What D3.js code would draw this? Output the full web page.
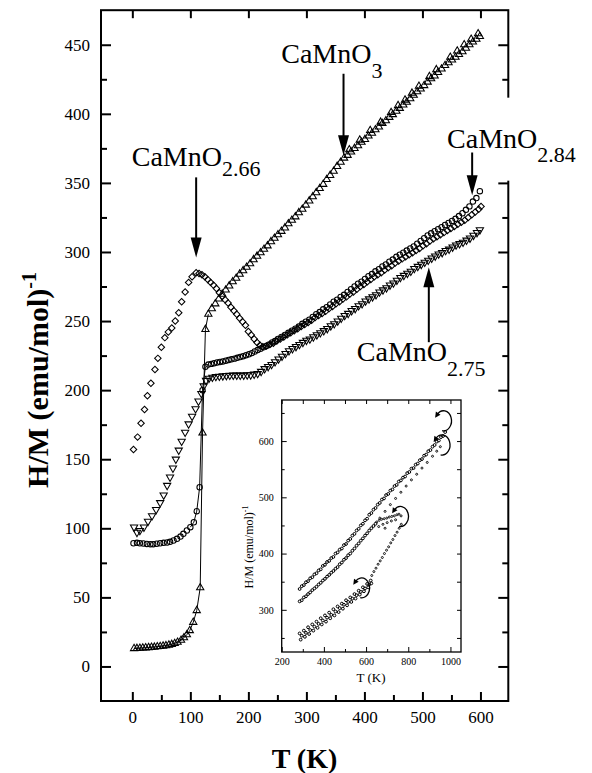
<!DOCTYPE html>
<html>
<head>
<meta charset="utf-8">
<script src="https://cdn.jsdelivr.net/npm/d3@7/dist/d3.min.js"></script>
<style>
html,body{margin:0;padding:0;background:#fff;}
svg{display:block;}
svg text{font-family:"Liberation Serif","DejaVu Serif",serif !important;}
</style>
</head>
<body>
<svg id="chart" width="592" height="773"></svg>
<script>
// ================= DATA =================
const xDomain = [-54, 648];
const yDomain = [-25, 475];
const xTicks = [0, 100, 200, 300, 400, 500, 600];
const xMinorTicks = [50, 150, 250, 350, 450, 550];
const yTicks = [0, 50, 100, 150, 200, 250, 300, 350, 400, 450];
const yMinorTicks = [25, 75, 125, 175, 225, 275, 325, 375, 425];

// CaMnO3 (up triangles), low-T part joined by a line
const caMnO3Low = [[3,13.0],[8,13.1],[13,13.2],[18,13.4],[23,13.5],[28,13.7],[33,13.9],[38,14.0],[43,14.3],[48,14.5],[53,14.8],[58,15.1],[63,15.5],[68,16.0],[73,16.7],[78,17.6],[84,19.0],[89,20.8],[94,23.0],[99,26.0],[105,32.0],[111,40.5],[117,57.0],[121,169.0],[126,244.0],[131,255.0]];
const caMnO3High = [[137,259],[143,262.5],[149,266],[155,269.5],[161,272.5],[167,275.5],[173,278.5],[179,281],[185,284],[191,286.5],[197,289],[203,291.5],[209,294.5],[215,297],[221,299.5],[227,302],[233,304.5],[239,307.5],[245,310],[251,312.5],[257,315],[263,317.5],[269,320.5],[275,323],[281,325.5],[287,328.5],[293,331],[299,334],[305,337],[311,340],[317,343],[323,346],[329,349],[335,352.5],[341,355.5],[347,358.5],[353,362],[359,365],[365,368],[371,370],[377,372.5],[383,375],[389,377],[395,379.5],[401,381.5],[407,384],[413,386],[419,388.5],[425,390.5],[431,393],[437,395],[443,397.5],[449,399.5],[455,402],[461,404],[467,406.5],[473,408.5],[479,411],[485,413.5],[491,416],[497,418],[503,420.5],[509,423],[515,425.5],[521,427.5],[527,430],[533,432.5],[539,435],[545,437],[551,439],[557,441],[563,443],[569,445],[575,447.5],[581,450],[587,452],[593,454],[599,456]];
const caMnO3Repeat = [[374,374],[392,381],[410,388],[428,394],[446,401],[458,406],[470,410],[482,415],[494,420],[512,427],[524,432],[548,441],[560,445.5],[572,450],[584,454],[596,458]];

// CaMnO2.84 (circles)
const caMnO284Low = [[2,89.2],[8,89.5],[13,89.2],[19,89.0],[25,88.7],[31,88.5],[36,88.5],[42,88.8],[48,89.2],[54,89.5],[60,89.7],[65,90.2],[71,91.2],[77,92.4],[83,94.0],[88,96.0],[94,98.4],[100,100.8],[106,104.4],[111,112.4],[116,129.7],[121,200.0],[126,217.0]];
const caMnO284High = [[131,218.5],[136,219],[141,219.5],[146,220],[151,220.4],[156,220.8],[161,221.3],[166,221.8],[171,222.3],[176,222.8],[181,223.4],[186,224],[191,224.6],[196,225.3],[201,226],[206,226.8],[211,228],[216,229],[221,230],[226,231],[231,232],[236,233],[241,234.5],[246,235.5],[251,237],[257,238.5],[263,240],[269,241.5],[275,243],[281,244.5],[287,246],[293,248],[299,249.5],[305,251],[311,253],[317,255],[323,256.5],[329,258.5],[335,260],[341,262],[347,264],[353,265.5],[359,267.5],[365,269],[371,271],[377,273],[383,275],[389,277],[395,278.5],[401,280.5],[407,282.5],[413,284],[419,286],[425,287.5],[431,289.5],[437,291],[443,293],[449,294.5],[455,296.5],[461,298],[467,299.5],[473,301],[479,302.5],[485,304],[491,306],[497,308],[503,310],[509,312],[515,313.5],[521,315],[527,316.5],[533,318],[539,319.5],[545,321],[551,322.5],[557,324],[563,326],[569,328],[575,330.5],[581,333],[587,336.5],[593,339],[599,344]];

// CaMnO2.66 (diamonds)
const caMnO266 = [[2,157],[9,166],[15,176],[21,186],[26,196],[32,205],[39,215],[44,223],[50,231],[56,238],[62,242],[68,245],[74,250],[80,256],[85,264],[91,271],[97,278],[103,282],[110,285],[115,284.5],[120,283.5],[125,282],[130,280],[135,278],[140,276],[145,273.5],[150,270.5],[155,268],[160,265.5],[165,263],[170,260],[175,257.5],[180,255],[185,252],[190,249.5],[195,247],[200,242.5],[205,240],[210,237],[215,234.5],[220,232.5],[225,231.5],[231,232],[237,233],[243,234],[249,235.5],[255,237],[261,238.5],[267,240],[273,241.5],[279,243],[285,244.5],[291,246],[297,247.5],[303,249],[309,250.5],[315,252.5],[321,254],[327,255.5],[333,257],[339,259],[345,260.5],[351,262.5],[357,264],[363,266],[369,267.5],[375,269.5],[381,271],[387,273],[393,275],[399,276.5],[405,278.5],[411,280],[417,282],[423,283.5],[429,285],[435,287],[441,288.5],[447,290],[453,292],[459,293.5],[465,295],[471,296.5],[477,298],[483,299.5],[489,301],[495,302.5],[501,304.5],[507,306],[513,308],[519,309.5],[525,311],[531,312.5],[537,314],[543,315.5],[549,317],[555,318.5],[561,320],[567,321.5],[573,323],[579,325],[585,327],[591,329],[597,331],[601,333]];

// CaMnO2.75 (down triangles)
const caMnO275 = [[3,100.8],[8,97],[13,98.4],[20,100.8],[27,105],[34,109],[41,113.5],[48,118.5],[54,124],[60,131],[65,137],[70,143.5],[75,150],[80,156.5],[85,163],[91,169.5],[97,175.5],[103,181],[109,186.5],[114,192],[119,197.5],[123,203],[127,207],[132,208.5],[138,209.3],[144,209.8],[150,210],[156,210.3],[162,210.5],[168,210.7],[174,210.8],[180,210.8],[186,210.8],[192,210.8],[198,211],[204,211],[210,211.5],[216,212],[222,213.5],[228,215.5],[234,217],[240,218.5],[246,220.5],[252,222.5],[258,224.5],[264,226.5],[270,228.5],[276,230],[282,231.5],[288,233],[294,234.5],[300,236],[306,237],[312,238.5],[318,240],[324,241.5],[330,243],[336,244.5],[342,246.5],[348,248],[354,250],[360,252],[366,254],[372,255.5],[378,257.5],[384,259],[390,261],[396,262.5],[402,264.5],[408,266],[414,267.5],[420,269],[426,271],[432,272.5],[438,274],[444,276],[450,277.5],[456,279.5],[462,281.5],[468,283],[474,284.5],[480,286],[486,288],[492,289.5],[498,291],[504,292.5],[510,294],[516,295.5],[522,297],[528,298.5],[534,299.5],[540,301],[546,302],[552,303.5],[558,305],[564,306],[570,307],[576,308.5],[582,310],[588,312],[594,314],[599,316]];

// Annotations (data units: label start, baseline; arrow x, tail, tip)
const annotations = [
  {main:"CaMnO", sub:"2.66", tx:-1,    ty:362.5, ax:110,   a0:354,   a1:296, sh:10, box:false},
  {main:"CaMnO", sub:"3",    tx:256.6, ty:437,   ax:364,   a0:429,   a1:370, sh:15, box:false},
  {main:"CaMnO", sub:"2.84", tx:542.5, ty:375.5, ax:585.7, a0:372,   a1:341, sh:14, box:true},
  {main:"CaMnO", sub:"2.75", tx:387,   ty:221.4, ax:511,   a0:234.7, a1:289, sh:15, box:false}
];

// ---------- inset data ----------
const insetXDomain = [200, 1050];
const insetYDomain = [225, 673];
const insetXTicks = [200, 400, 600, 800, 1000];
const insetXMinor = [300, 500, 700, 900];
const insetYTicks = [300, 400, 500, 600];
const insetYMinor = [250, 350, 450, 550, 650];

const insetTopHeat = [[285,337],[305,344],[325,351],[345,358],[365,365],[385,372],[405,380],[425,387],[445,394],[465,402],[485,409],[505,417],[525,426],[545,435],[565,444],[585,453],[605,462],[625,472],[645,481],[665,490],[685,498],[705,506],[725,514],[745,522],[765,530],[785,537],[805,545],[825,552],[845,560],[865,568],[885,576],[905,584],[925,593],[945,601],[965,609]];
const insetTopCool = [[295,342],[315,349],[335,356],[355,363],[375,370],[395,378],[415,385],[435,392],[455,400],[475,407],[495,415],[515,423],[535,432],[555,441],[575,450],[595,459],[615,469],[635,478],[655,487],[675,496],[695,504],[715,512],[735,520],[755,528],[775,535],[795,543],[815,551],[835,558],[855,566],[875,574],[895,582],[915,590],[935,599],[955,607],[975,616]];
const insetMidHeat = [[285,315],[305,322],[325,328],[345,335],[365,341],[385,348],[405,355],[425,362],[445,369],[465,376],[485,384],[505,392],[525,400],[545,409],[565,418],[585,427],[605,436],[625,445],[645,453]];
const insetMidCool = [[295,317],[315,324],[335,331],[355,338],[375,345],[395,352],[415,359],[435,366],[455,373],[475,381],[495,389],[515,397],[535,405],[555,414],[575,423],[595,432],[615,441],[635,449]];
const insetMidUpper = [[665,463],[690,475],[715,487],[740,498],[765,509],[790,520],[815,531],[840,541],[865,552],[890,562],[915,573],[935,582],[952,590]];
const insetLoopPeak = [[650,456],[662,459],[674,461],[686,462],[698,463],[710,465],[722,466],[734,467],[746,469],[756,470],[766,467],[660,448],[680,452],[700,455],[720,458],[740,460],[690,445]];
const insetDrop = [[767,452],[757,445],[747,438],[737,432],[727,425],[717,419],[707,412],[697,406],[687,400],[677,393],[667,387],[657,381],[647,374],[637,368],[627,361]];
const insetLowHeat = [[285,258],[305,263],[325,269],[345,274],[365,279],[385,285],[405,290],[425,295],[445,301],[465,306],[485,311],[505,317],[525,322],[545,328],[565,334],[585,340],[605,346],[622,352]];
const insetLowCool = [[290,247],[310,252],[330,257],[350,263],[370,268],[390,274],[410,279],[430,285],[450,290],[470,296],[490,302],[510,308],[530,314],[550,320],[570,327],[590,333],[610,340],[625,347]];
const insetLowExtra = [[295,254],[315,259],[335,264],[355,270],[375,275],[395,281],[415,286],[435,291],[455,297],[475,303],[495,309],[515,314],[535,320],[555,326],[575,332],[595,338],[615,345]];
// curved arrow centres (data units)
const insetArrows = [[967,636],[960,593],[763,466],[579,339]];

// ================= DRAWING =================
const FONT = "Liberation Serif, DejaVu Serif, serif";
const svg = d3.select("#chart");
svg.append("rect").attr("width", 592).attr("height", 773).attr("fill", "#fff");

const P = {l: 101, r: 508.3, t: 10.2, b: 701};
const x = d3.scaleLinear().domain(xDomain).range([P.l, P.r]);
const y = d3.scaleLinear().domain(yDomain).range([P.b, P.t]);

function styleAxis(g, size, sw) {
  g.select(".domain").remove();
  g.attr("font-family", FONT);
  g.selectAll("line").attr("stroke", "#000").attr("stroke-width", sw);
  g.selectAll("text").style("font-family", FONT).attr("font-size", size).attr("fill", "#000");
}

// main axes
svg.append("g").attr("transform", `translate(0,${P.b})`)
  .call(d3.axisBottom(x).tickValues(xTicks).tickSize(-9).tickPadding(10).tickFormat(d3.format("d")))
  .call(g => styleAxis(g, 17, 2));
svg.append("g").attr("transform", `translate(0,${P.b})`)
  .call(d3.axisBottom(x).tickValues(xMinorTicks).tickSize(-6).tickFormat(""))
  .call(g => styleAxis(g, 17, 2));
svg.append("g").attr("transform", `translate(0,${P.t})`)
  .call(d3.axisTop(x).tickValues(xTicks).tickSize(-8).tickFormat(""))
  .call(g => styleAxis(g, 17, 2));
svg.append("g").attr("transform", `translate(${P.l},0)`)
  .call(d3.axisLeft(y).tickValues(yTicks).tickSize(-10).tickPadding(11).tickFormat(d3.format("d")))
  .call(g => styleAxis(g, 17, 2));
svg.append("g").attr("transform", `translate(${P.l},0)`)
  .call(d3.axisLeft(y).tickValues(yMinorTicks).tickSize(-6).tickFormat(""))
  .call(g => styleAxis(g, 17, 2));
svg.append("g").attr("transform", `translate(${P.r},0)`)
  .call(d3.axisRight(y).tickValues(yTicks).tickSize(-10).tickFormat(""))
  .call(g => styleAxis(g, 17, 2));
svg.append("g").attr("transform", `translate(${P.r},0)`)
  .call(d3.axisRight(y).tickValues(yMinorTicks).tickSize(-6).tickFormat(""))
  .call(g => styleAxis(g, 17, 2));
svg.append("rect").attr("x", P.l).attr("y", P.t).attr("width", P.r - P.l).attr("height", P.b - P.t)
  .attr("fill", "none").attr("stroke", "#000").attr("stroke-width", 2);

// axis titles
const yTitle = svg.append("text").attr("transform", `translate(48,380) rotate(-90)`)
  .attr("text-anchor", "middle").style("font-family", FONT).attr("font-weight", "bold").attr("font-size", 30);
yTitle.append("tspan").text("H/M (emu/mol)");
yTitle.append("tspan").attr("dy", -12).attr("font-size", 20).text("-1");
svg.append("text").attr("x", 304.5).attr("y", 768).attr("text-anchor", "middle")
  .style("font-family", FONT).attr("font-weight", "bold").attr("font-size", 28).text("T (K)");

// annotations
const annG = svg.append("g");
annotations.forEach(a => {
  const g = annG.append("g");
  const t = g.append("text").attr("x", x(a.tx)).attr("y", y(a.ty))
    .style("font-family", FONT).attr("font-size", 28);
  t.append("tspan").text(a.main);
  t.append("tspan").attr("dy", a.sh).attr("font-size", 22).text(a.sub);
  if (a.box) {
    const bb = t.node().getBBox();
    g.insert("rect", "text").attr("x", bb.x - 3).attr("y", bb.y - 25)
      .attr("width", bb.width + 6).attr("height", bb.height + 39).attr("fill", "#fff");
  }
  const px = x(a.ax), p0 = y(a.a0), p1 = y(a.a1);
  const dir = Math.sign(p1 - p0);
  const headLen = 20, headW = 11;
  g.append("line").attr("x1", px).attr("x2", px).attr("y1", p0).attr("y2", p1 - dir * headLen * 0.7)
    .attr("stroke", "#000").attr("stroke-width", 2);
  g.append("path").attr("d", `M${px},${p1} L${px - headW / 2},${p1 - dir * headLen} L${px + headW / 2},${p1 - dir * headLen} Z`)
    .attr("fill", "#000");
});

// data lines (low-T joined curves)
const line = d3.line().x(d => x(d[0])).y(d => y(d[1]));
svg.append("path").datum(caMnO3Low).attr("d", line).attr("fill", "none").attr("stroke", "#000").attr("stroke-width", 1);
svg.append("path").datum(caMnO284Low.slice(17)).attr("d", line).attr("fill", "none").attr("stroke", "#000").attr("stroke-width", 1);

// markers
const symTri = d3.symbol(d3.symbolTriangle, 23);
const symSq = d3.symbol(d3.symbolSquare, 21);
function drawMarkers(data, kind) {
  const g = svg.append("g").attr("fill", "none").attr("stroke", "#000").attr("stroke-width", 1.05);
  data.forEach(d => {
    const cx = x(d[0]), cy = y(d[1]);
    if (kind === "circle") {
      g.append("circle").attr("cx", cx).attr("cy", cy).attr("r", 2.7);
    } else if (kind === "up") {
      g.append("path").attr("d", symTri()).attr("transform", `translate(${cx},${cy})`);
    } else if (kind === "down") {
      g.append("path").attr("d", symTri()).attr("transform", `translate(${cx},${cy}) rotate(180)`);
    } else {
      g.append("path").attr("d", symSq()).attr("transform", `translate(${cx},${cy}) rotate(45)`);
    }
  });
}
drawMarkers(caMnO275, "down");
drawMarkers(caMnO266, "diamond");
drawMarkers(caMnO284Low, "circle");
drawMarkers(caMnO284High, "circle");
drawMarkers(caMnO3Low, "up");
drawMarkers(caMnO3High, "up");
drawMarkers(caMnO3Repeat, "up");

// ================= INSET =================
const IP = {l: 281.7, r: 461, t: 400, b: 652};
const ix = d3.scaleLinear().domain(insetXDomain).range([IP.l, IP.r]);
const iy = d3.scaleLinear().domain(insetYDomain).range([IP.b, IP.t]);
const inset = svg.append("g");
inset.append("rect").attr("x", IP.l).attr("y", IP.t).attr("width", IP.r - IP.l).attr("height", IP.b - IP.t).attr("fill", "#fff");

inset.append("g").attr("transform", `translate(0,${IP.b})`)
  .call(d3.axisBottom(ix).tickValues(insetXTicks).tickSize(-5).tickPadding(6).tickFormat(d3.format("d")))
  .call(g => styleAxis(g, 10, 1));
inset.append("g").attr("transform", `translate(0,${IP.b})`)
  .call(d3.axisBottom(ix).tickValues(insetXMinor).tickSize(-3).tickFormat(""))
  .call(g => styleAxis(g, 10, 1));
inset.append("g").attr("transform", `translate(0,${IP.t})`)
  .call(d3.axisTop(ix).tickValues(insetXTicks.concat(insetXMinor)).tickSize(-4).tickFormat(""))
  .call(g => styleAxis(g, 10, 1));
inset.append("g").attr("transform", `translate(${IP.l},0)`)
  .call(d3.axisLeft(iy).tickValues(insetYTicks).tickSize(-5).tickPadding(8).tickFormat(d3.format("d")))
  .call(g => styleAxis(g, 10, 1));
inset.append("g").attr("transform", `translate(${IP.l},0)`)
  .call(d3.axisLeft(iy).tickValues(insetYMinor).tickSize(-3).tickFormat(""))
  .call(g => styleAxis(g, 10, 1));
inset.append("g").attr("transform", `translate(${IP.r},0)`)
  .call(d3.axisRight(iy).tickValues(insetYTicks.concat(insetYMinor)).tickSize(-4).tickFormat(""))
  .call(g => styleAxis(g, 10, 1));
inset.append("rect").attr("x", IP.l).attr("y", IP.t).attr("width", IP.r - IP.l).attr("height", IP.b - IP.t)
  .attr("fill", "none").attr("stroke", "#000").attr("stroke-width", 1.3);

const iyTitle = inset.append("text").attr("transform", `translate(253,547) rotate(-90)`)
  .attr("text-anchor", "middle").style("font-family", FONT).attr("font-size", 12);
iyTitle.append("tspan").text("H/M (emu/mol)");
iyTitle.append("tspan").attr("dy", -5).attr("font-size", 8).text("-1");
inset.append("text").attr("x", 371).attr("y", 682).attr("text-anchor", "middle")
  .style("font-family", FONT).attr("font-size", 13).text("T (K)");

function insetMarkers(data, r, sw) {
  const g = inset.append("g").attr("fill", "none").attr("stroke", "#000").attr("stroke-width", sw);
  data.forEach(d => g.append("circle").attr("cx", ix(d[0])).attr("cy", iy(d[1])).attr("r", r));
}
[insetTopHeat, insetTopCool, insetMidHeat, insetMidCool, insetLowHeat, insetLowCool, insetLowExtra].forEach(s => insetMarkers(s, 1.4, 1.0));
[insetMidUpper, insetLoopPeak, insetDrop].forEach(s => insetMarkers(s, 1.0, 0.9));

// curved arrows
insetArrows.forEach(c => {
  const cx = ix(c[0]), cy = iy(c[1]);
  const rx = 8, ry = 10;
  const a0 = 100 * Math.PI / 180, a1 = -140 * Math.PI / 180;
  const x0 = cx + rx * Math.cos(a0), y0 = cy + ry * Math.sin(a0);
  const x1 = cx + rx * Math.cos(a1), y1 = cy + ry * Math.sin(a1);
  inset.append("path").attr("d", `M${x0},${y0} A${rx},${ry} 0 1 0 ${x1},${y1}`)
    .attr("fill", "none").attr("stroke", "#000").attr("stroke-width", 1.3);
  let dx = rx * Math.sin(a1), dy = -ry * Math.cos(a1);
  const n = Math.hypot(dx, dy); dx /= n; dy /= n;
  const tipX = x1 + dx * 4, tipY = y1 + dy * 4;
  const bx = x1 - dx * 1.5, by = y1 - dy * 1.5;
  inset.append("path").attr("d", `M${tipX},${tipY} L${bx - dy * 2.8},${by + dx * 2.8} L${bx + dy * 2.8},${by - dx * 2.8} Z`)
    .attr("fill", "#000");
});
</script>
</body>
</html>
